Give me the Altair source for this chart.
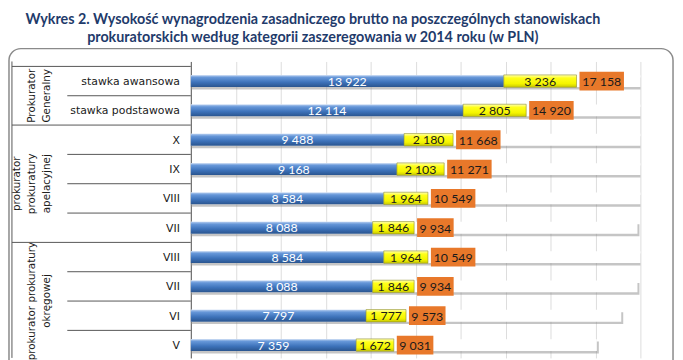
import altair as alt
import pandas as pd

title_lines = [
    "Wykres 2. Wysokość wynagrodzenia zasadniczego brutto na poszczególnych stanowiskach",
    "prokuratorskich według kategorii zaszeregowania w 2014 roku (w PLN)",
]
categories = ["stawka awansowa", "stawka podstawowa", "X", "IX", "VIII", "VII",
              "VIII", "VII", "VI", "V"]
group_names = ["Prokurator\nGeneralny",
               "prokurator\nprokuratury\napelacyjnej",
               "prokurator prokuratury\nokręgowej"]
group_of_row = [0, 0, 1, 1, 1, 1, 2, 2, 2, 2]
base_pay = [13922, 12114, 9488, 9168, 8584, 8088, 8584, 8088, 7797, 7359]
addition = [3236, 2805, 2180, 2103, 1964, 1846, 1964, 1846, 1777, 1672]
total = [17158, 14920, 11668, 11271, 10549, 9934, 10549, 9934, 9573, 9031]


def fmt(v):
    return f"{v:,}".replace(",", " ")


df = pd.DataFrame({
    "cat": categories,
    "grp": group_of_row,
    "base": base_pay,
    "add": addition,
    "total": total,
})
df["i"] = range(len(df))
df["zero"] = 0
df["ba"] = df["base"] + df["add"]
df["end"] = df["ba"] + df["total"]
df["mid_base"] = df["base"] / 2
df["mid_add"] = df["base"] + df["add"] / 2
df["base_lbl"] = df["base"].map(fmt)
df["add_lbl"] = df["add"].map(fmt)
df["tot_lbl"] = df["total"].map(fmt)
df["n"] = df["tot_lbl"].str.len()

gdf = df.groupby("grp", as_index=False)["i"].mean()
gdf["name"] = [group_names[g] for g in gdf["grp"]]

# separator lines of the left table
sep_rows = [{"pos": -0.5, "kind": "group"}]
for k in range(len(df) - 1):
    kind = "group" if group_of_row[k] != group_of_row[k + 1] else "row"
    sep_rows.append({"pos": k + 0.5, "kind": kind})
sdf = pd.DataFrame(sep_rows)

ysc = alt.Scale(domain=[-0.5, 9.27], reverse=True, nice=False, zero=False)
xsc = alt.Scale(domain=[0, 20000], nice=False, zero=True)

blue_grad = alt.Gradient(
    gradient="linear", x1=0, x2=0, y1=0, y2=1,
    stops=[alt.GradientStop(color="#b5cdef", offset=0),
           alt.GradientStop(color="#6596d8", offset=0.2),
           alt.GradientStop(color="#3d72ba", offset=0.6),
           alt.GradientStop(color="#2a558f", offset=1)])
yellow_grad = alt.Gradient(
    gradient="linear", x1=0, x2=0, y1=0, y2=1,
    stops=[alt.GradientStop(color="#ffffb8", offset=0),
           alt.GradientStop(color="#ffff1a", offset=0.25),
           alt.GradientStop(color="#f5f500", offset=0.7),
           alt.GradientStop(color="#c9c900", offset=1)])

base = alt.Chart(df)
Y = alt.Y("i:Q", scale=ysc, title=None)

NUMFONT = "Lato"
LINE_H = 15.5

frame = alt.Chart(pd.DataFrame({"a": [0]})).mark_rect(
    filled=False, stroke="#8a8a8a", strokeWidth=1.5, cornerRadius=12
).encode(x=alt.value(-184), x2=alt.value(488), y=alt.value(-13), y2=alt.value(340))

shadow = base.mark_bar(orient="horizontal", size=12, yOffset=2.5, x2Offset=2,
                       clip=True, color="#8c8c8c", opacity=0.5).encode(
    x=alt.X("zero:Q", scale=xsc, title=None), x2="end:Q", y=Y)
white = base.mark_bar(orient="horizontal", size=12, clip=True, color="white").encode(
    x=alt.X("zero:Q", scale=xsc, title=None), x2="end:Q", y=Y)
blue = base.mark_bar(orient="horizontal", size=12, color=blue_grad).encode(
    x=alt.X("zero:Q", scale=xsc, title=None), x2="base:Q", y=Y)
yellow = base.mark_bar(orient="horizontal", size=12.5, color=yellow_grad,
                       stroke="#8f8f2a", strokeWidth=0.6).encode(
    x=alt.X("base:Q", scale=xsc, title=None), x2="ba:Q", y=Y)

layers = [frame, shadow, white, blue, yellow]

# orange total boxes + labels
for n in sorted(df["n"].unique()):
    w = 8 * n - 3
    sub = base.transform_filter(f"datum.n == {n}")
    layers.append(sub.mark_bar(orient="horizontal", size=19, color="#e8782a",
                               xOffset=3, x2Offset=3 + w).encode(
        x=alt.X("total:Q", scale=xsc, title=None), x2="total:Q", y=Y))
    layers.append(sub.mark_text(font=NUMFONT, fontSize=12.5, color="#1a1a1a",
                                align="center", baseline="middle", dy=1,
                                xOffset=3 + w / 2).encode(
        x=alt.X("total:Q", scale=xsc, title=None), y=Y, text="tot_lbl:N"))

blue_txt = base.mark_text(font=NUMFONT, fontSize=12.5, color="white",
                          align="center", baseline="middle", dy=0.5).encode(
    x=alt.X("mid_base:Q", scale=xsc, title=None), y=Y, text="base_lbl:N")
yel_txt = base.mark_text(font=NUMFONT, fontSize=12.5, color="#1a1a1a",
                         align="center", baseline="middle", dy=0.5).encode(
    x=alt.X("mid_add:Q", scale=xsc, title=None), y=Y, text="add_lbl:N")

cat_txt = base.mark_text(font="DejaVu Sans", fontSize=11, color="#1a1a1a",
                         align="right", baseline="middle", dy=1).encode(
    x=alt.value(-11), y=Y, text="cat:N")

layers += [blue_txt, yel_txt, cat_txt]

# rotated group labels: last line kept at a fixed column, earlier lines to its left
for g, row in gdf.iterrows():
    n_lines = row["name"].count("\n") + 1
    layers.append(alt.Chart(gdf[gdf["grp"] == row["grp"]]).mark_text(
        font="DejaVu Sans", fontSize=10.5, color="#1a1a1a", angle=270,
        align="center", baseline="middle", lineBreak="\n", lineHeight=LINE_H
    ).encode(x=alt.value(-145 - (n_lines - 1) * LINE_H),
             y=alt.Y("i:Q", scale=ysc, title=None), text="name:N"))

sep_group = alt.Chart(sdf).transform_filter("datum.kind == 'group'").mark_rule(
    color="#555555", strokeWidth=1).encode(
    x=alt.value(-181), x2=alt.value(0), y=alt.Y("pos:Q", scale=ysc, title=None))
sep_row = alt.Chart(sdf).transform_filter("datum.kind == 'row'").mark_rule(
    color="#555555", strokeWidth=1).encode(
    x=alt.value(-125), x2=alt.value(0), y=alt.Y("pos:Q", scale=ysc, title=None))
left_line = alt.Chart(pd.DataFrame({"a": [0]})).mark_rule(
    color="#555555", strokeWidth=1).encode(
    x=alt.value(-181), y=alt.value(0), y2=alt.value(300))

layers += [sep_group, sep_row, left_line]

chart = alt.layer(*layers).properties(
    width=455, height=300,
    autosize=alt.AutoSizeParams(type="none"),
    padding={"left": 185, "top": 52, "right": 35, "bottom": 0},
    title=alt.TitleParams(
        text=title_lines, font="Lato", fontSize=14.5, fontWeight="bold",
        color="#1f3b6b", anchor="middle", frame="group", dx=-104,
        offset=2, lineHeight=19),
).configure_view(stroke="transparent").configure_axisX(
    labels=False, ticks=False, domain=False, grid=True, gridColor="#dcdcdc",
    tickCount=10, title=None
).configure_axisY(
    labels=False, ticks=False, grid=False, domain=True, domainColor="#555555",
    title=None
)

chart.save("out.html", embed_options={"renderer": "svg", "actions": False})
